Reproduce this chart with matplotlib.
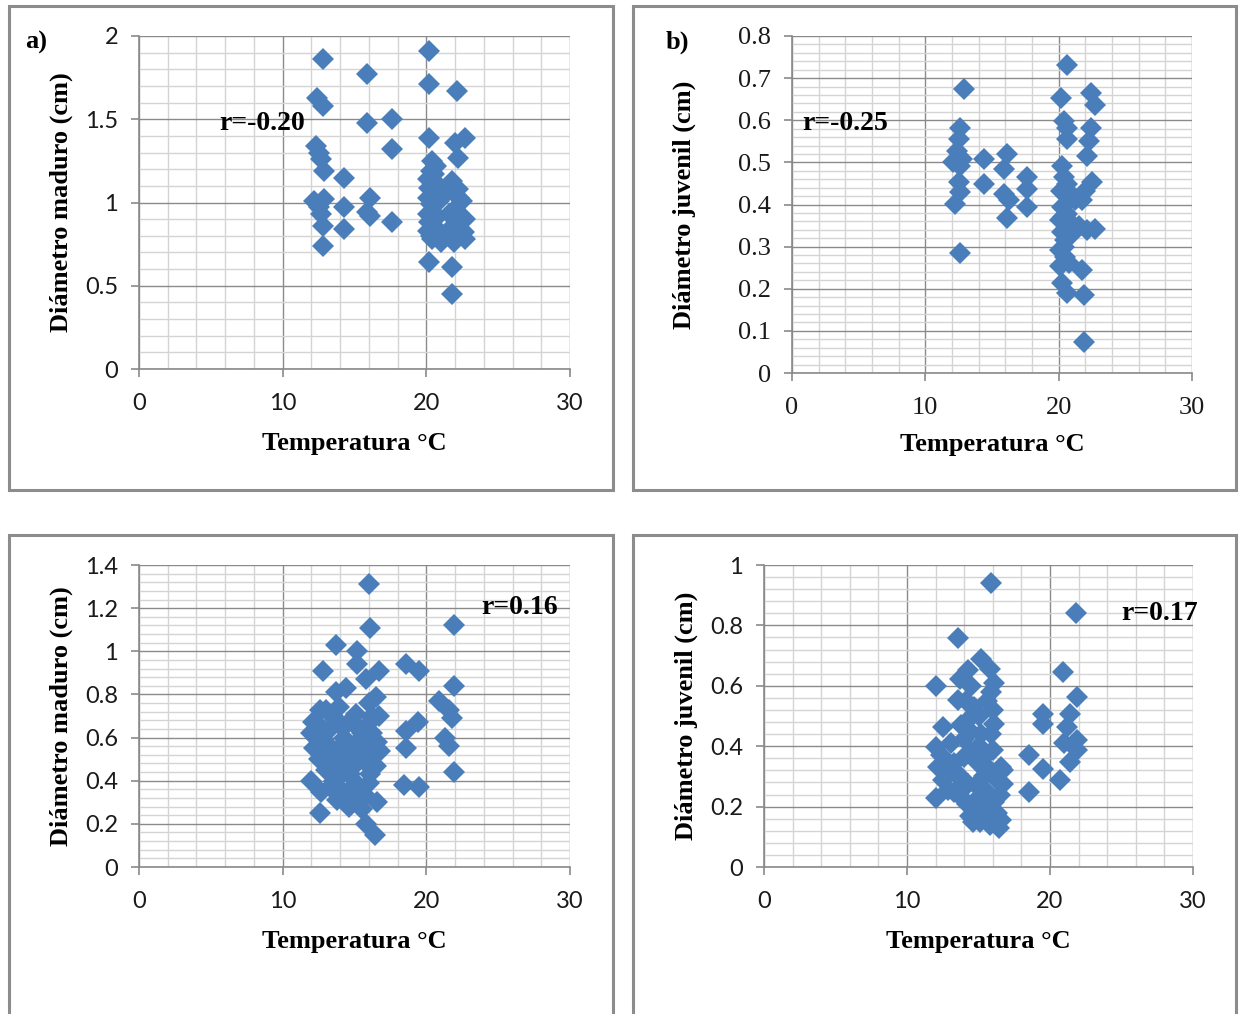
import numpy as np
import matplotlib
matplotlib.use("Agg")
from matplotlib import pyplot as plt
from matplotlib.patches import Rectangle
from matplotlib.ticker import MultipleLocator, FuncFormatter

# panel a: temperatura vs diametro maduro
temp_a = [12.8, 15.9, 20.2, 20.2, 22.1, 12.4, 12.8, 15.9, 17.6, 17.6, 20.2, 22.7, 22.0, 22.2,
          12.35, 12.5, 12.7, 12.85, 14.3, 12.2, 12.9, 12.5, 12.7, 12.8, 12.8, 14.3, 14.3,
          16.1, 15.9, 16.1, 17.6,
          20.4, 20.3, 20.1, 20.2, 20.1, 20.3, 20.1, 20.2, 20.1, 20.4, 20.7, 20.6, 20.9, 20.5,
          21.8, 22.2, 22.5, 22.0, 22.7, 22.0, 22.7, 21.7, 21.3, 21.6,
          20.5, 20.7, 20.9, 20.4, 20.6, 20.3, 21.0, 22.3, 22.6, 21.9, 21.5, 20.6,
          20.2, 21.8, 21.8]
diam_a = [1.86, 1.77, 1.91, 1.71, 1.67, 1.63, 1.58, 1.48, 1.50, 1.32, 1.39, 1.39, 1.36, 1.27,
          1.34, 1.30, 1.26, 1.19, 1.15, 1.01, 1.02, 0.97, 0.93, 0.86, 0.74, 0.97, 0.84,
          1.03, 0.94, 0.92, 0.88,
          1.25, 1.19, 1.14, 1.09, 1.03, 0.99, 0.93, 0.88, 0.83, 0.78, 1.22, 0.90, 0.80, 1.08,
          1.13, 1.08, 1.01, 0.96, 0.90, 0.85, 0.78, 0.81, 1.05, 0.93,
          1.17, 1.12, 1.01, 0.95, 0.85, 0.80, 0.76, 1.03, 0.82, 0.76, 0.83, 1.06,
          0.64, 0.61, 0.45]

# panel b: temperatura vs diametro juvenil
temp_b = [12.9, 20.6, 20.2, 22.4, 22.75, 12.6, 12.5, 20.4, 20.6, 20.6, 22.4, 22.25, 22.1,
          12.4, 12.1, 12.6, 12.75, 14.4, 16.1, 15.9, 17.6, 14.4, 17.6, 12.5, 12.6, 15.9,
          16.25, 17.6, 12.25, 16.1, 12.6,
          20.25, 20.4, 20.6, 20.2, 20.75, 20.25, 20.6, 20.1, 20.9, 20.25, 20.5, 20.1, 20.5,
          20.1, 20.25, 20.6,
          20.8, 21.0, 20.4, 21.2, 20.8, 20.3, 21.5,
          22.5, 22.0, 21.75, 22.75, 22.1, 21.75, 21.9, 21.9]
diam_b = [0.675, 0.73, 0.653, 0.665, 0.637, 0.582, 0.555, 0.598, 0.582, 0.555, 0.582, 0.551, 0.516,
          0.527, 0.50, 0.492, 0.508, 0.508, 0.52, 0.484, 0.465, 0.449, 0.437, 0.453, 0.43, 0.425,
          0.41, 0.394, 0.402, 0.367, 0.284,
          0.492, 0.465, 0.449, 0.433, 0.418, 0.394, 0.378, 0.363, 0.355, 0.335, 0.316, 0.292, 0.276,
          0.253, 0.214, 0.19,
          0.43, 0.33, 0.30, 0.41, 0.26, 0.37, 0.35,
          0.453, 0.433, 0.41, 0.343, 0.339, 0.245, 0.186, 0.073]

# panel c: temperatura vs diametro maduro
temp_c = [16.0, 16.1, 21.9, 13.7, 15.2, 12.8, 18.6, 19.5, 16.7, 15.2, 21.9, 13.7, 14.4, 15.8,
          20.9, 21.6, 21.8, 19.4, 18.6, 21.3, 21.6, 18.6, 21.9, 18.45, 19.5, 12.0, 12.6, 12.7,
          16.4, 15.8, 16.6, 16.0, 16.5, 16.8, 16.1, 16.25, 16.0, 16.7, 16.5,
          12.1, 12.6, 12.0, 12.2, 12.9, 13.3, 13.7, 13.9, 14.3, 14.6, 15.1, 15.3, 15.0, 15.6,
          14.2, 13.5, 14.0, 14.6, 15.1, 14.4, 15.1, 13.3, 13.8, 14.65, 15.5, 13.0, 15.8, 16.3,
          12.3, 12.5, 13.0, 13.2, 13.5, 13.9, 14.1, 14.8, 15.2, 15.5, 15.9, 16.2, 16.4, 16.6,
          14.0, 14.5, 15.0, 15.8, 13.6, 12.7, 13.0, 16.1, 14.7]
diam_c = [1.31, 1.11, 1.12, 1.03, 1.00, 0.91, 0.94, 0.91, 0.91, 0.94, 0.84, 0.81, 0.83, 0.87,
          0.77, 0.73, 0.69, 0.67, 0.63, 0.60, 0.56, 0.55, 0.44, 0.38, 0.37, 0.40, 0.25, 0.35,
          0.15, 0.20, 0.30, 0.39, 0.47, 0.54, 0.59, 0.70, 0.76, 0.70, 0.79,
          0.67, 0.73, 0.62, 0.55, 0.59, 0.64, 0.68, 0.74, 0.60, 0.67, 0.71, 0.64, 0.57, 0.54,
          0.51, 0.47, 0.42, 0.45, 0.39, 0.34, 0.31, 0.37, 0.31, 0.28, 0.27, 0.52, 0.48, 0.56,
          0.60, 0.50, 0.45, 0.56, 0.70, 0.55, 0.65, 0.52, 0.48, 0.62, 0.66, 0.62, 0.52, 0.58,
          0.36, 0.30, 0.36, 0.33, 0.40, 0.65, 0.73, 0.43, 0.43]

# panel d: temperatura vs diametro juvenil
temp_d = [15.9, 21.85, 13.6, 12.0, 20.9, 15.2, 15.8, 14.3, 13.7, 16.1, 21.9, 21.9, 21.4, 19.5,
          19.5, 21.2, 12.5, 14.3, 13.6, 14.7, 16.0, 16.1, 15.2, 14.0, 12.0, 21.0, 21.4, 20.7,
          21.9, 18.5, 19.5, 18.5, 16.6, 16.7, 16.1, 16.6, 14.6, 15.5, 12.0, 12.9, 12.2, 13.3,
          14.0, 14.95, 15.4, 14.3, 13.6, 14.85, 15.8, 16.0, 13.1, 13.8, 15.2, 12.5,
          12.4, 12.8, 13.3, 13.8, 14.2, 14.5, 14.8, 15.0, 15.3, 15.6, 15.9, 16.2, 16.5, 16.7,
          14.1, 14.5, 15.6, 15.9, 13.8, 15.0, 14.4, 16.3, 15.8, 16.4, 14.4, 15.1]
diam_d = [0.94, 0.84, 0.757, 0.60, 0.646, 0.69, 0.657, 0.652, 0.624, 0.608, 0.563, 0.387, 0.508, 0.508,
          0.475, 0.464, 0.464, 0.486, 0.552, 0.53, 0.52, 0.475, 0.442, 0.425, 0.398, 0.409, 0.348, 0.287,
          0.42, 0.37, 0.326, 0.249, 0.331, 0.276, 0.215, 0.155, 0.149, 0.166, 0.227, 0.254, 0.331, 0.343,
          0.365, 0.343, 0.30, 0.276, 0.309, 0.221, 0.32, 0.387, 0.409, 0.232, 0.188, 0.287,
          0.37, 0.30, 0.25, 0.29, 0.21, 0.38, 0.27, 0.40, 0.36, 0.25, 0.44, 0.29, 0.24, 0.32,
          0.55, 0.60, 0.55, 0.58, 0.47, 0.50, 0.45, 0.18, 0.14, 0.13, 0.17, 0.15]

x_ticks = [0, 10, 20, 30]

label_x = "Temperatura °C"
label_mad = "Diámetro maduro (cm)"
label_juv = "Diámetro juvenil (cm)"

W, H = 1239, 1014
fig = plt.figure(figsize=(W / 100, H / 100), dpi=100)

def px_rect(x0, y0, x1, y1):
    return [x0 / W, 1 - y1 / H, (x1 - x0) / W, (y1 - y0) / H]

# outer frames around each chart
for (x0, y0, x1, y1) in [(9, 6, 613, 490), (633, 6, 1236, 490),
                         (9, 535, 613, 1030), (633, 535, 1236, 1030)]:
    fig.patches.append(Rectangle((x0 / W, 1 - y1 / H), (x1 - x0) / W, (y1 - y0) / H,
                                 transform=fig.transFigure, fill=False,
                                 edgecolor="#8c8c8c", linewidth=2.2))

serif = "Liberation Serif"
sans = "Lato"
blue = "#4a7ebb"

def panel(rect, xs, ys, ymax, ymajor, ylabel, tickfont, ticksize, ypad, xpad, r_text, r_xy,
          tag=None, tag_xy=None):
    ax = fig.add_axes(rect)
    ax.plot(xs, ys, linestyle="none", marker="D", markersize=11.5, color=blue,
            markeredgewidth=0, zorder=3, clip_on=False)
    ax.set_xlim(0, 30)
    ax.set_ylim(0, ymax)
    ax.xaxis.set_major_locator(MultipleLocator(10))
    ax.xaxis.set_minor_locator(MultipleLocator(2))
    ax.yaxis.set_major_locator(MultipleLocator(ymajor))
    ax.yaxis.set_minor_locator(MultipleLocator(ymajor / 5))
    ax.grid(which="minor", color="#d4d4d4", linewidth=1.0)
    ax.grid(which="major", color="#8a8a8a", linewidth=1.0)
    ax.set_axisbelow(True)
    for s in ["top", "right"]:
        ax.spines[s].set_visible(False)
    for s in ["left", "bottom"]:
        ax.spines[s].set_color("#8a8a8a")
        ax.spines[s].set_linewidth(1.2)
    ax.tick_params(which="major", length=6, width=1.2, color="#8a8a8a", labelsize=ticksize,
                   labelcolor="#1a1a1a")
    ax.tick_params(which="minor", length=0)
    ax.tick_params(axis="x", pad=11)
    ax.tick_params(axis="y", pad=9)
    ax.set_xticks(x_ticks)
    ax.xaxis.set_major_formatter(FuncFormatter(lambda v, p: f"{v:g}"))
    ax.yaxis.set_major_formatter(FuncFormatter(lambda v, p: f"{round(v, 2):g}"))
    for lab in ax.get_xticklabels() + ax.get_yticklabels():
        lab.set_fontfamily(tickfont)
    ax.set_xlabel(label_x, fontfamily=serif, fontweight="bold", fontsize=19, labelpad=xpad)
    ax.set_ylabel(ylabel, fontfamily=serif, fontweight="bold", fontsize=19, labelpad=ypad)
    fig.text(r_xy[0] / W, 1 - r_xy[1] / H, r_text, fontfamily=serif, fontweight="bold",
             fontsize=20, ha="center", va="center")
    if tag:
        fig.text(tag_xy[0] / W, 1 - tag_xy[1] / H, tag, fontfamily=serif, fontweight="bold",
                 fontsize=19, ha="center", va="center")
    return ax

panel(px_rect(139, 36, 570, 369), temp_a, diam_a, 2, 0.5, label_mad, sans, 17, 9, 13,
      "r=-0.20", (262, 123), "a)", (36, 42))
panel(px_rect(792, 36, 1192, 373), temp_b, diam_b, 0.8, 0.1, label_juv, serif, 19, 30, 10,
      "r=-0.25", (845, 123), "b)", (677, 42))
panel(px_rect(139, 565, 570, 867), temp_c, diam_c, 1.4, 0.2, label_mad, sans, 17, 9, 13,
      "r=0.16", (520, 607))
panel(px_rect(764, 565, 1193, 867), temp_d, diam_d, 1.0, 0.2, label_juv, sans, 17, 9, 13,
      "r=0.17", (1160, 614))

fig.savefig("out.png", dpi=100)
